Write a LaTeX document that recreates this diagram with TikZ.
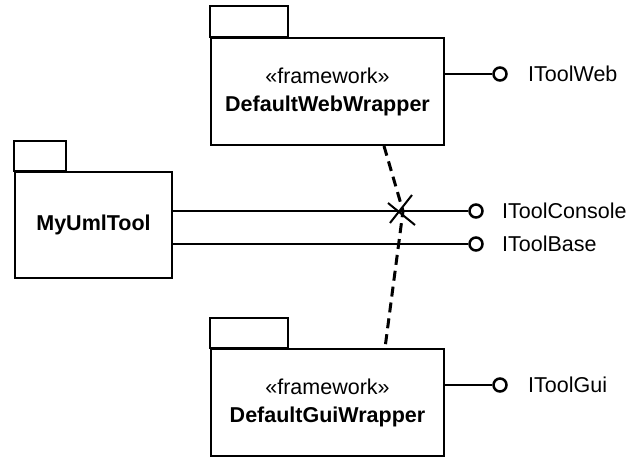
\documentclass[tikz,border=0pt]{standalone}
\usepackage{fontspec}
\setmainfont{Liberation Sans}
\usetikzlibrary{positioning,calc}
\tikzset{
  pkg/.style={draw, line width=2pt, fill=white, align=center, inner sep=0pt,
              font=\fontsize{21.5}{28}\selectfont},
  pkgtab/.style={draw, line width=2pt},
  lolli/.style={draw, circle, line width=2.5pt, fill=white, minimum size=13pt, inner sep=0pt},
  iface/.style={anchor=west, inner sep=0pt, font=\fontsize{21.5}{27}\selectfont},
  conn/.style={line width=2pt},
  dep/.style={line width=3pt, dash pattern=on 10pt off 6pt},
}

\begin{document}
\begin{tikzpicture}[x=1pt,y=-1pt]
  \useasboundingbox (0,0) rectangle (641,458);

  % packages
  \node[pkg, minimum width=233pt, minimum height=107pt] (web) at (327.5,91.5)
    {«framework»\\\textbf{DefaultWebWrapper}};
  \node[pkg, minimum width=157pt, minimum height=106pt] (tool) at (93.5,225)
    {\textbf{MyUmlTool}};
  \node[pkg, minimum width=233pt, minimum height=107pt] (gui) at (327.5,402.5)
    {«framework»\\\textbf{DefaultGuiWrapper}};
  \draw[pkgtab] (web.north west) rectangle ++(78,-31);
  \draw[pkgtab] (tool.north west) rectangle ++(52,-30);
  \draw[pkgtab] (gui.north west) rectangle ++(78,-30);

  % provided interfaces
  \node[lolli] (webc) at (500,74) {};
  \node[lolli] (cons) at (476,211) {};
  \node[lolli] (base) at (476,244) {};
  \node[lolli] (guic) at (500,385) {};
  \node[iface] (webl) at (528,74) {IToolWeb};
  \node[iface] (consl) at (502,211) {IToolConsole};
  \node[iface] (basel) at (502,244) {IToolBase};
  \node[iface] (guil) at (528,385) {IToolGui};
  \draw[conn] (web.east |- webc) -- (webc);
  \draw[conn] (tool.east |- cons) -- (cons);
  \draw[conn] (tool.east |- base) -- (base);
  \draw[conn] (gui.east |- guic) -- (guic);

  % dependency with cut mark
  \coordinate (cut) at (403,211);
  \path (web.south) ++(56.5,0) coordinate (webend);
  \path (gui.north) ++(57.5,0) coordinate (guiend);
  \draw[dep] (webend) -- (cut) -- (guiend);
  \draw[conn] ($(cut)+(-15,-8)$) -- ($(cut)+(12,14)$);
  \draw[conn] ($(cut)+(-13,12)$) -- ($(cut)+(9,-16)$);
\end{tikzpicture}
\end{document}
